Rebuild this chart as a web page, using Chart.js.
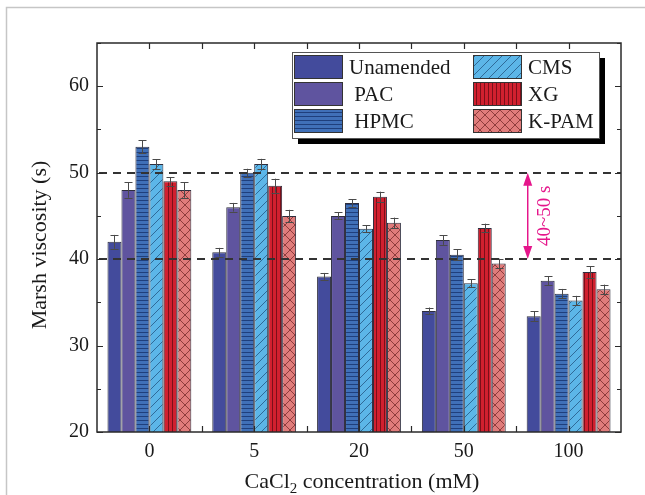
<!DOCTYPE html>
<html><head><meta charset="utf-8">
<script src="https://cdn.jsdelivr.net/npm/chart.js@4/dist/chart.umd.min.js"></script>
<style>html,body{margin:0;padding:0;background:#fff;}canvas{display:block;}</style>
</head><body>
<canvas id="c" width="645" height="495"></canvas>
<script>
// ---- data ----
const categories = ['0', '5', '20', '50', '100'];
const seriesNames = ['Unamended', ' PAC', ' HPMC', 'CMS', 'XG', 'K-PAM'];
const unamended = [42.0, 40.8, 38.0, 34.0, 33.4];
const pac       = [48.0, 46.0, 45.0, 42.2, 37.5];
const hpmc      = [53.0, 50.0, 46.5, 40.5, 36.0];
const cms       = [51.0, 51.0, 43.5, 37.2, 35.2];
const xg        = [49.0, 48.5, 47.2, 43.6, 38.5];
const kpam      = [48.0, 45.0, 44.2, 39.5, 36.5];
const errUnamended = [0.8, 0.5, 0.4, 0.4, 0.55];
const errPac       = [0.9, 0.5, 0.4, 0.55, 0.5];
const errHpmc      = [0.75, 0.45, 0.45, 0.65, 0.55];
const errCms       = [0.55, 0.6, 0.4, 0.45, 0.55];
const errXg        = [0.5, 0.8, 0.6, 0.5, 0.65];
const errKpam      = [0.9, 0.7, 0.6, 0.55, 0.55];
const refLines = [40, 50];
const refLabel = '40~50 s';
const yMin = 20, yMax = 65, yStep = 10, yMinorStep = 5;
const xTitleMain = 'CaCl', xTitleSub = '2', xTitleRest = ' concentration (mM)';
const yTitle = 'Marsh viscosity (s)';

// ---- styles ----
const SERIF = '"Liberation Serif", "Times New Roman", serif';
function makePattern(bg, fg, kind) {
  const s = {plain: 4, hlines: 4, vlines: 4, diag: 9, cross: 10}[kind];
  const c = document.createElement('canvas'); c.width = s; c.height = s;
  const g = c.getContext('2d');
  g.fillStyle = bg; g.fillRect(0, 0, s, s);
  g.strokeStyle = fg; g.lineWidth = 1;
  g.beginPath();
  if (kind === 'hlines') { g.moveTo(0, 0.5); g.lineTo(s, 0.5); }
  if (kind === 'vlines') { g.moveTo(0.5, 0); g.lineTo(0.5, s); }
  if (kind === 'diag') { g.moveTo(-1, s + 1); g.lineTo(s + 1, -1); g.moveTo(-1, 1); g.lineTo(1, -1); g.moveTo(s - 1, s + 1); g.lineTo(s + 1, s - 1); }
  if (kind === 'cross') { g.moveTo(0, 0); g.lineTo(s, s); g.moveTo(0, s); g.lineTo(s, 0); }
  if (kind !== 'plain') g.stroke();
  return g.createPattern(c, 'repeat');
}
const fills = [
  makePattern('#434b9c', '#434b9c', 'plain'),
  makePattern('#5f549f', '#5f549f', 'plain'),
  makePattern('#4070b8', '#1f3f7c', 'hlines'),
  makePattern('#5cb6e8', '#2f6a98', 'diag'),
  makePattern('#d1202f', '#7c0f19', 'vlines'),
  makePattern('#e07c7b', '#8e3c3c', 'cross'),
];
const values = [unamended, pac, hpmc, cms, xg, kpam];
const errors = [errUnamended, errPac, errHpmc, errCms, errXg, errKpam];

const decor = {
  id: 'decor',
  beforeDraw(chart) {
    const ctx = chart.ctx;
    ctx.save();
    ctx.fillStyle = '#fff'; ctx.fillRect(0, 0, chart.width, chart.height);
    ctx.strokeStyle = '#c6c6c6'; ctx.lineWidth = 1.5;
    ctx.beginPath(); ctx.moveTo(6.5, chart.height); ctx.lineTo(6.5, 7.5); ctx.lineTo(chart.width, 7.5); ctx.stroke();
    ctx.restore();
  },
  afterDatasetsDraw(chart) {
    const ctx = chart.ctx, ca = chart.chartArea;
    const xs = chart.scales.x, ys = chart.scales.y;
    ctx.save();
    // error bars
    ctx.strokeStyle = '#4a4a4a'; ctx.lineWidth = 1;
    chart.data.datasets.forEach((ds, di) => {
      const meta = chart.getDatasetMeta(di);
      meta.data.forEach((el, i) => {
        const v = ds.data[i], e = errors[di][i];
        const x = Math.round(el.x) + 0.5;
        const yt = ys.getPixelForValue(v + e), yb = ys.getPixelForValue(v - e);
        const cap = 4;
        ctx.beginPath();
        ctx.moveTo(x, yt); ctx.lineTo(x, yb);
        ctx.moveTo(x - cap, Math.round(yt) + 0.5); ctx.lineTo(x + cap, Math.round(yt) + 0.5);
        ctx.moveTo(x - cap, Math.round(yb) + 0.5); ctx.lineTo(x + cap, Math.round(yb) + 0.5);
        ctx.stroke();
      });
    });
    // reference dashed lines
    ctx.strokeStyle = '#333'; ctx.lineWidth = 2; ctx.setLineDash([8, 6]);
    refLines.forEach(v => {
      const y = Math.round(ys.getPixelForValue(v));
      ctx.beginPath(); ctx.moveTo(ca.left + 2, y); ctx.lineTo(ca.right, y); ctx.stroke();
    });
    ctx.setLineDash([]);
    // frame
    ctx.strokeStyle = '#2a2a2a'; ctx.lineWidth = 1.5;
    ctx.strokeRect(ca.left, ca.top, ca.right - ca.left, ca.bottom - ca.top);
    // y ticks (inward, both sides)
    ctx.lineWidth = 1.2;
    for (let v = yMin; v <= yMax; v += yMinorStep) {
      const y = Math.round(ys.getPixelForValue(v)) + 0.5;
      const len = (v % yStep === 0) ? 6 : 4;
      ctx.beginPath();
      ctx.moveTo(ca.left, y); ctx.lineTo(ca.left + len, y);
      ctx.moveTo(ca.right, y); ctx.lineTo(ca.right - len, y);
      ctx.stroke();
    }
    // x ticks at centers and boundaries (inward, top and bottom)
    const n = categories.length;
    const pitch = (ca.right - ca.left) / n;
    for (let i = 0; i < n; i++) {
      const c = xs.getPixelForValue(i);
      [c, c + pitch / 2].forEach((px, k) => {
        if (k === 1 && i === n - 1) return;
        const x = Math.round(px) + 0.5;
        ctx.beginPath();
        ctx.moveTo(x, ca.top); ctx.lineTo(x, ca.top + 6);
        ctx.moveTo(x, ca.bottom); ctx.lineTo(x, ca.bottom - 6);
        ctx.stroke();
      });
    }
    // legend
    const lx = 292, ly = 52, lw = 307, lh = 86;
    ctx.fillStyle = '#000'; ctx.fillRect(lx + 6, ly + 6, lw, lh);
    ctx.fillStyle = '#fff'; ctx.fillRect(lx, ly, lw, lh);
    ctx.strokeStyle = '#555'; ctx.lineWidth = 1; ctx.strokeRect(lx + 0.5, ly + 0.5, lw, lh);
    ctx.font = '21px ' + SERIF; ctx.textBaseline = 'middle'; ctx.textAlign = 'left';
    chart.data.datasets.forEach((ds, di) => {
      const col = Math.floor(di / 3), row = di % 3;
      const sx = col === 0 ? lx + 2 : lx + 181;
      const sy = ly + 3 + row * 27;
      ctx.fillStyle = ds.backgroundColor; ctx.fillRect(sx, sy, 49, 24);
      ctx.strokeStyle = '#333'; ctx.strokeRect(sx + 0.5, sy + 0.5, 48, 23);
      ctx.fillStyle = '#1a1a1a';
      ctx.fillText(ds.label, sx + 55, sy + 13);
    });
    // annotation arrow
    const ax = ca.left + 0.822 * (ca.right - ca.left);
    const ya = ys.getPixelForValue(refLines[1]), yb2 = ys.getPixelForValue(refLines[0]);
    ctx.strokeStyle = '#e5168b'; ctx.fillStyle = '#e5168b'; ctx.lineWidth = 1.5;
    ctx.beginPath(); ctx.moveTo(ax, ya + 8); ctx.lineTo(ax, yb2 - 8); ctx.stroke();
    ctx.beginPath(); ctx.moveTo(ax, ya); ctx.lineTo(ax - 4.5, ya + 13); ctx.lineTo(ax + 4.5, ya + 13); ctx.closePath(); ctx.fill();
    ctx.beginPath(); ctx.moveTo(ax, yb2); ctx.lineTo(ax - 4.5, yb2 - 13); ctx.lineTo(ax + 4.5, yb2 - 13); ctx.closePath(); ctx.fill();
    ctx.save();
    ctx.translate(ax + 17, (ya + yb2) / 2);
    ctx.rotate(-Math.PI / 2);
    ctx.font = '19px ' + SERIF; ctx.textAlign = 'center'; ctx.textBaseline = 'middle';
    ctx.fillText(refLabel, 0, 0);
    ctx.restore();
    // axis titles
    ctx.fillStyle = '#1a1a1a';
    ctx.save();
    ctx.translate(40, 245); ctx.rotate(-Math.PI / 2);
    ctx.font = '22px ' + SERIF; ctx.textAlign = 'center'; ctx.textBaseline = 'middle';
    ctx.fillText(yTitle, 0, 0);
    ctx.restore();
    ctx.textAlign = 'left'; ctx.textBaseline = 'alphabetic';
    ctx.font = '22px ' + SERIF;
    const w1 = ctx.measureText(xTitleMain).width, w3 = ctx.measureText(xTitleRest).width;
    ctx.font = '15px ' + SERIF;
    const w2 = ctx.measureText(xTitleSub).width;
    const total = w1 + w2 + w3;
    let tx = (ca.left + ca.right) / 2 + 3 - total / 2;
    const base = 488;
    ctx.font = '22px ' + SERIF; ctx.fillText(xTitleMain, tx, base); tx += w1;
    ctx.font = '15px ' + SERIF; ctx.fillText(xTitleSub, tx, base + 5); tx += w2;
    ctx.font = '22px ' + SERIF; ctx.fillText(xTitleRest, tx, base);
    ctx.restore();
  }
};

new Chart(document.getElementById('c'), {
  type: 'bar',
  data: {
    labels: categories,
    datasets: seriesNames.map((name, i) => ({
      label: name,
      data: values[i],
      backgroundColor: fills[i],
      borderColor: '#2e2e3e',
      borderWidth: 1,
      barPercentage: 1.0,
      categoryPercentage: 0.8,
    })),
  },
  options: {
    responsive: false,
    animation: false,
    devicePixelRatio: 1,
    layout: { padding: { left: 0, top: 43, right: 24, bottom: 0 } },
    plugins: { legend: { display: false }, tooltip: { enabled: false } },
    scales: {
      x: {
        grid: { display: false, drawTicks: false },
        border: { display: false },
        ticks: { font: { family: SERIF, size: 20 }, color: '#1a1a1a', padding: 8, maxRotation: 0 },
        afterFit(s) { s.height = 63; },
      },
      y: {
        min: yMin, max: yMax,
        grid: { display: false, drawTicks: false },
        border: { display: false },
        ticks: { stepSize: yStep, includeBounds: false, font: { family: SERIF, size: 20 }, color: '#1a1a1a', padding: 8 },
        afterFit(s) { s.width = 97; },
      },
    },
  },
  plugins: [decor],
});
</script>
</body></html>
